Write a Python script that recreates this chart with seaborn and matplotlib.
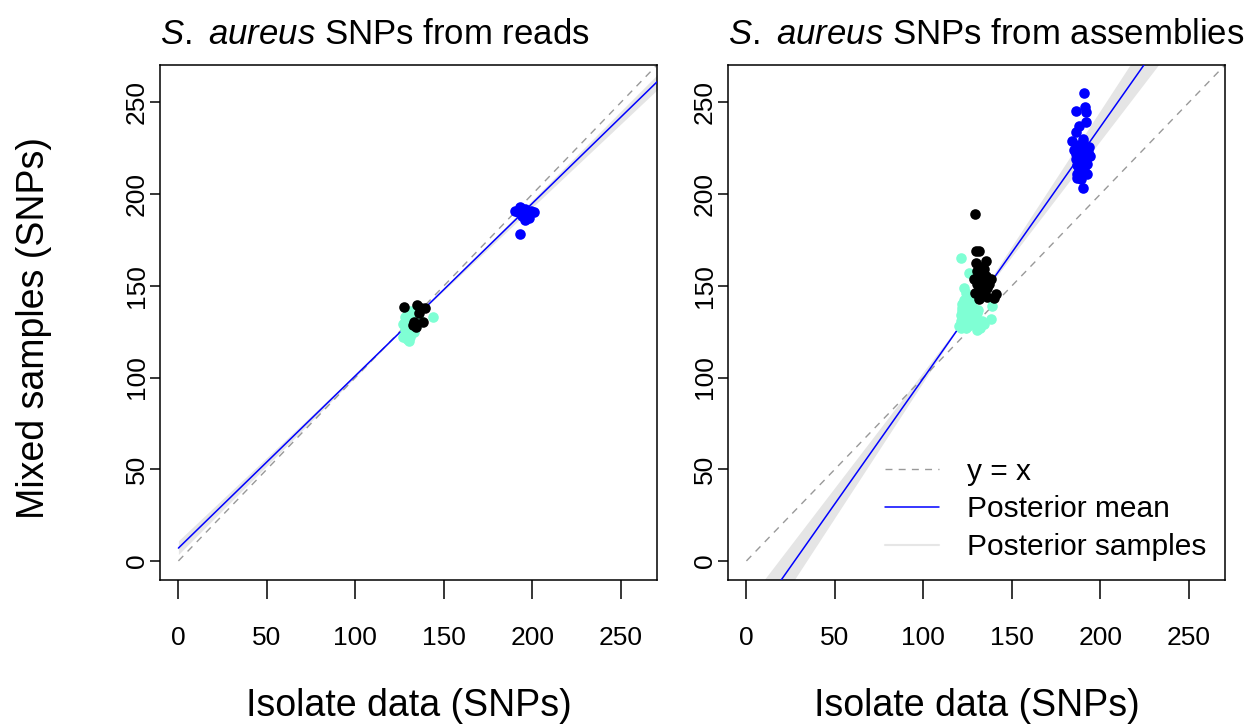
import numpy as np
import pandas as pd
import matplotlib
matplotlib.use("Agg")
import matplotlib.pyplot as plt
from matplotlib.lines import Line2D
import seaborn as sns

# -----------------------------
# Data
# -----------------------------
ticks = [0, 50, 100, 150, 200, 250]
lims = (-10.4, 270.4)

# panel 1: SNPs from reads
reads_aqua_x = [127, 128, 129, 130, 131, 132, 133, 134, 128, 129, 130, 131, 132, 133,
                127, 128, 129, 130, 131, 132, 130, 131, 129, 130, 131, 132, 133, 134,
                135, 128, 129, 130, 131, 144, 136, 134]
reads_aqua_y = [122, 123, 121, 124, 125, 126, 127, 128, 126, 127, 128, 129, 130, 131,
                129, 130, 131, 132, 133, 134, 120, 122, 125, 126, 127, 124, 125, 129,
                131, 133, 134, 135, 136, 133, 132, 133]
reads_black_x = [127.5, 135, 137, 139.5, 133, 138, 134, 136, 132.5]
reads_black_y = [138.5, 139.5, 138, 138, 130, 130.5, 127.5, 135, 128.5]
reads_blue_x = [190, 193, 196, 199, 201, 194, 196, 198, 192, 195, 197, 193]
reads_blue_y = [191, 193, 192, 191, 190, 188, 186, 187, 190, 190, 189, 178]

reads_mean = (7.0, 0.94)  # intercept, slope
reads_sample_b = [3.5, 5.5, 7.0, 8.5, 11.0]
reads_sample_m = [0.967, 0.951, 0.940, 0.928, 0.909]

# panel 2: SNPs from assemblies
asm_aqua_x = [121.4, 125.7, 122.9, 139, 138,
              120, 121, 122, 123, 124, 125, 126, 127, 128, 129, 130, 131, 132, 133,
              121, 122, 123, 124, 125, 126, 127, 128, 129, 130, 131,
              122, 123, 124, 125, 126, 127, 128, 129, 121, 122, 124, 126, 128,
              130, 132, 134]
asm_aqua_y = [165, 157.2, 149, 139, 132,
              128, 127, 129, 130, 127, 128, 131, 129, 130, 132, 128, 130, 129, 131,
              134, 136, 133, 137, 135, 138, 134, 136, 133, 135, 137,
              140, 142, 139, 141, 143, 140, 138, 145, 131, 138, 146, 144, 142,
              126, 127, 129]
asm_black_x = [129.1, 129.5, 131.4, 135.2, 129.5, 130.5, 135.2, 138, 128.6, 132.4,
               131.4, 136.1, 140.8, 131.4, 139.9, 134.2, 133, 130, 137, 134, 132,
               129, 136]
asm_black_y = [189.1, 169, 169, 163.6, 162.7, 158.1, 155.4, 153.6, 153.6, 152.6,
               148.1, 149, 145.4, 142.6, 143.5, 146.3, 156, 151, 151, 159, 160,
               146, 144]
asm_blue_x = [190.8, 191.2, 186.1, 192.1, 191.7, 188, 186.1, 184.2, 189.9, 193.6,
              186.1, 190.8, 193, 188, 191, 186, 189, 192, 194, 187, 190, 192.7,
              188, 191, 186.5, 187, 192.7, 189, 190.2, 185, 188, 190, 192, 187,
              189, 191]
asm_blue_y = [255, 247.4, 245.2, 244.6, 239.2, 237.3, 233.7, 229.1, 228.2, 225.5,
              221.9, 221.9, 223, 224, 226, 219, 219, 219, 221, 216, 216, 216.4,
              213, 213, 211, 209, 210.9, 208, 203.1, 224, 227, 230, 222, 222,
              211, 217]

asm_mean = (-37.3, 1.37)
asm_sample_b = [-23.5, -29.8, -37.3, -44.8, -51.0]
asm_sample_m = [1.26, 1.31, 1.37, 1.43, 1.48]

aqua = "#7FFFD4"
blue = "#0000FF"
dash_grey = "#999999"
band_grey = "#E5E5E5"

# -----------------------------
# Style
# -----------------------------
sns.set_theme(style="ticks")
plt.rcParams["font.family"] = ["Liberation Sans", "DejaVu Sans"]
plt.rcParams["mathtext.fontset"] = "custom"
plt.rcParams["mathtext.it"] = "Liberation Sans:italic"
plt.rcParams["mathtext.rm"] = "Liberation Sans"
plt.rcParams["text.color"] = "black"
plt.rcParams["axes.labelcolor"] = "black"
plt.rcParams["xtick.color"] = "black"
plt.rcParams["ytick.color"] = "black"

fig = plt.figure(figsize=(12.55, 7.26), dpi=100)
ax1 = fig.add_axes([0.1275, 0.2011, 0.3960, 0.7094])
ax2 = fig.add_axes([0.5801, 0.2011, 0.3960, 0.7094])

xgrid = np.linspace(0, 300, 301)


def draw_panel(ax, title, groups, mean, sample_b, sample_m):
    samples = np.array([b + m * xgrid for b, m in zip(sample_b, sample_m)])
    ax.fill_between(xgrid, samples.min(axis=0), samples.max(axis=0),
                    color=band_grey, lw=0, zorder=1)
    ax.plot(xgrid, xgrid, color=dash_grey, lw=1.0, ls=(0, (5, 4.5)), zorder=2)
    ax.plot(xgrid, mean[0] + mean[1] * xgrid, color=blue, lw=1.1, zorder=3)
    for gx, gy, col in groups:
        df = pd.DataFrame({"x": gx, "y": gy})
        sns.scatterplot(data=df, x="x", y="y", color=col, s=58, linewidth=0,
                        ax=ax, zorder=4)
    ax.set_xlim(lims)
    ax.set_ylim(lims)
    ax.set_xticks(ticks)
    ax.set_yticks(ticks)
    for sp in ax.spines.values():
        sp.set_visible(True)
        sp.set_linewidth(1.1)
        sp.set_color("black")
    ax.tick_params(axis="x", length=14, width=1.1, pad=19, labelsize=19,
                   colors="black")
    ax.tick_params(axis="y", length=7, width=1.1, pad=1, labelsize=19,
                   colors="black")
    for lab in ax.get_yticklabels():
        lab.set_rotation(90)
        lab.set_va("center")
    ax.set_title(title, loc="left", fontsize=25, pad=15, color="black")
    ax.set_xlabel("Isolate data (SNPs)", fontsize=27, color="black")
    ax.xaxis.set_label_coords(0.5, -0.209)
    ax.set_ylabel("")


draw_panel(ax1, r"$\it{S.}$ $\it{aureus}$ SNPs from reads",
           [(reads_aqua_x, reads_aqua_y, aqua),
            (reads_black_x, reads_black_y, "black"),
            (reads_blue_x, reads_blue_y, blue)],
           reads_mean, reads_sample_b, reads_sample_m)
draw_panel(ax2, r"$\it{S.}$ $\it{aureus}$ SNPs from assemblies",
           [(asm_aqua_x, asm_aqua_y, aqua),
            (asm_black_x, asm_black_y, "black"),
            (asm_blue_x, asm_blue_y, blue)],
           asm_mean, asm_sample_b, asm_sample_m)

ax1.set_ylabel("Mixed samples (SNPs)", fontsize=27, color="black")
ax1.yaxis.set_label_coords(-0.2183, 0.49)

handles = [
    Line2D([], [], color=dash_grey, lw=1.0, ls=(0, (5, 4.5))),
    Line2D([], [], color=blue, lw=1.1),
    Line2D([], [], color="#E6E6E6", lw=1.5),
]
ax2.legend(handles, ["y = x", "Posterior mean", "Posterior samples"],
           loc="center left", bbox_to_anchor=(0.316, 0.137), frameon=False,
           fontsize=21.5, borderpad=0, borderaxespad=0, handlelength=1.8,
           handletextpad=0.93, labelspacing=0.32)

fig.savefig("out.png", dpi=100)
